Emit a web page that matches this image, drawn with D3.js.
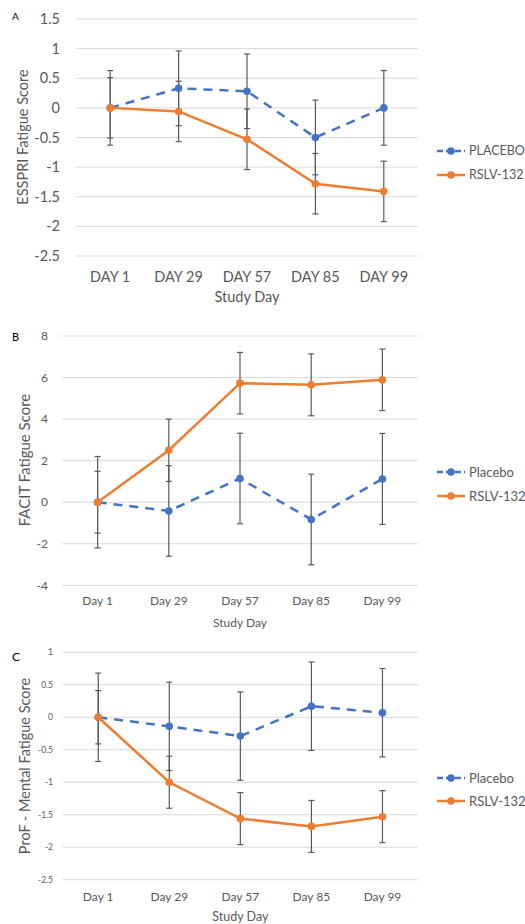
<!DOCTYPE html>
<html lang="en">
<head>
    <meta charset="UTF-8">
    <title>Fatigue Scores</title>
    <script src="https://d3js.org/d3.v7.min.js"></script>
    <style>
        body {
            margin: 0;
            padding: 0;
            background-color: #fff;
        }
        svg {
            display: block;
            font-family: Lato, "Open Sans", sans-serif;
        }
        .grid line {
            stroke: #d9d9d9;
            stroke-width: 1;
        }
        .tick-label, .axis-title, .legend-label {
            fill: #595959;
        }
    </style>
</head>
<body>
    <svg id="chart" width="525" height="924"></svg>
    <script>
        // Data
        const daysUpper = ["DAY 1", "DAY 29", "DAY 57", "DAY 85", "DAY 99"];
        const daysLower = ["Day 1", "Day 29", "Day 57", "Day 85", "Day 99"];

        // Panel A: ESSPRI
        const esspriPlacebo = [0, 0.33, 0.28, -0.50, 0];
        const esspriPlaceboErr = [0.63, 0.63, 0.63, 0.63, 0.63];
        const esspriRslv = [0, -0.06, -0.53, -1.28, -1.41];
        const esspriRslvErr = [0.51, 0.51, 0.51, 0.51, 0.51];
        const esspriTicks = [1.5, 1, 0.5, 0, -0.5, -1, -1.5, -2, -2.5];

        // Panel B: FACIT
        const facitPlacebo = [0, -0.42, 1.14, -0.83, 1.12];
        const facitPlaceboErr = [2.2, 2.18, 2.18, 2.18, 2.19];
        const facitRslv = [0, 2.5, 5.73, 5.65, 5.89];
        const facitRslvErr = [1.49, 1.5, 1.48, 1.49, 1.48];
        const facitTicks = [8, 6, 4, 2, 0, -2, -4];

        // Panel C: ProF - Mental
        const profPlacebo = [0, -0.14, -0.29, 0.17, 0.07];
        const profPlaceboErr = [0.68, 0.68, 0.68, 0.68, 0.68];
        const profRslv = [0, -1.0, -1.56, -1.68, -1.53];
        const profRslvErr = [0.41, 0.40, 0.40, 0.40, 0.40];
        const profTicks = [1, 0.5, 0, -0.5, -1, -1.5, -2, -2.5];

        const BLUE = "#4472c4";
        const ORANGE = "#ed7d31";
        const ERR = "#5a5a5a";

        const panels = [
            {
                letter: "A", letterX: 12, letterY: 20, letterSize: 10,
                cats: daysUpper, ticks: esspriTicks, domain: [-2.5, 1.5],
                x0: 76, x1: 418, yTop: 19, yBottom: 256,
                tickX: 60, tickSize: 14.5,
                catY: 282, catSize: 14.5,
                xTitleY: 302, xTitleSize: 14.5,
                yTitle: "ESSPRI Fatigue Score", yTitleX: 23, yTitleY: 137, yTitleSize: 14.5,
                legendY: [151, 175], legendNames: ["PLACEBO", "RSLV-132"], legendSize: 12.5,
                placebo: esspriPlacebo, placeboErr: esspriPlaceboErr,
                rslv: esspriRslv, rslvErr: esspriRslvErr
            },
            {
                letter: "B", letterX: 12, letterY: 341, letterSize: 11,
                cats: daysLower, ticks: facitTicks, domain: [-4, 8],
                x0: 62, x1: 418, yTop: 336, yBottom: 585.3,
                tickX: 48, tickSize: 12,
                catY: 605, catSize: 12,
                xTitleY: 627, xTitleSize: 12,
                yTitle: "FACIT Fatigue Score", yTitleX: 25, yTitleY: 460, yTitleSize: 15,
                legendY: [472, 496], legendNames: ["Placebo", "RSLV-132"], legendSize: 13,
                placebo: facitPlacebo, placeboErr: facitPlaceboErr,
                rslv: facitRslv, rslvErr: facitRslvErr
            },
            {
                letter: "C", letterX: 12, letterY: 661, letterSize: 12,
                cats: daysLower, ticks: profTicks, domain: [-2.5, 1],
                x0: 62.7, x1: 418, yTop: 652.3, yBottom: 879.7,
                tickX: 53, tickSize: 8.5,
                catY: 901, catSize: 12,
                xTitleY: 920.5, xTitleSize: 12.5,
                yTitle: "ProF - Mental Fatigue Score", yTitleX: 25, yTitleY: 766, yTitleSize: 14.5,
                legendY: [778, 801], legendNames: ["Placebo", "RSLV-132"], legendSize: 13,
                placebo: profPlacebo, placeboErr: profPlaceboErr,
                rslv: profRslv, rslvErr: profRslvErr
            }
        ];

        const svg = d3.select("#chart");

        function drawPanel(p) {
            const g = svg.append("g");

            const x = d3.scaleBand()
                .domain(p.cats)
                .range([p.x0, p.x1]);

            const y = d3.scaleLinear()
                .domain(p.domain)
                .range([p.yBottom, p.yTop]);

            const cx = d => x(d) + x.bandwidth() / 2;

            // gridlines
            g.append("g").attr("class", "grid")
                .selectAll("line")
                .data(p.ticks)
                .join("line")
                .attr("x1", p.x0).attr("x2", p.x1)
                .attr("y1", d => y(d)).attr("y2", d => y(d));

            // y tick labels
            g.append("g")
                .selectAll("text")
                .data(p.ticks)
                .join("text")
                .attr("class", "tick-label")
                .attr("x", p.tickX)
                .attr("y", d => y(d))
                .attr("dy", "0.35em")
                .attr("text-anchor", "end")
                .style("font-size", p.tickSize + "px")
                .text(d => d);

            // category labels
            g.append("g")
                .selectAll("text")
                .data(p.cats)
                .join("text")
                .attr("class", "tick-label")
                .attr("x", d => cx(d))
                .attr("y", p.catY)
                .attr("text-anchor", "middle")
                .style("font-size", p.catSize + "px")
                .text(d => d);

            g.append("text")
                .attr("class", "axis-title")
                .attr("x", (p.x0 + p.x1) / 2)
                .attr("y", p.xTitleY)
                .attr("text-anchor", "middle")
                .style("font-size", p.xTitleSize + "px")
                .text("Study Day");

            g.append("text")
                .attr("class", "axis-title")
                .attr("transform", `translate(${p.yTitleX},${p.yTitleY}) rotate(-90)`)
                .attr("dy", "0.35em")
                .attr("text-anchor", "middle")
                .style("font-size", p.yTitleSize + "px")
                .text(p.yTitle);

            g.append("text")
                .attr("x", p.letterX)
                .attr("y", p.letterY)
                .style("font-size", p.letterSize + "px")
                .attr("fill", "#000")
                .text(p.letter);

            const series = [
                { values: p.placebo, err: p.placeboErr, color: BLUE, dash: "9,7" },
                { values: p.rslv, err: p.rslvErr, color: ORANGE, dash: null }
            ];

            // error bars
            series.forEach(s => {
                const rows = p.cats.map((c, i) => ({ c, v: s.values[i], e: s.err[i] }));
                const eb = g.append("g")
                    .attr("stroke", ERR)
                    .attr("stroke-width", 1.2);
                eb.selectAll("line.v")
                    .data(rows).join("line").attr("class", "v")
                    .attr("x1", d => cx(d.c)).attr("x2", d => cx(d.c))
                    .attr("y1", d => y(d.v + d.e)).attr("y2", d => y(d.v - d.e));
                eb.selectAll("line.t")
                    .data(rows).join("line").attr("class", "t")
                    .attr("x1", d => cx(d.c) - 3).attr("x2", d => cx(d.c) + 3)
                    .attr("y1", d => y(d.v + d.e)).attr("y2", d => y(d.v + d.e));
                eb.selectAll("line.b")
                    .data(rows).join("line").attr("class", "b")
                    .attr("x1", d => cx(d.c) - 3).attr("x2", d => cx(d.c) + 3)
                    .attr("y1", d => y(d.v - d.e)).attr("y2", d => y(d.v - d.e));
            });

            // lines and markers
            series.forEach(s => {
                const rows = p.cats.map((c, i) => ({ c, v: s.values[i] }));
                const line = d3.line()
                    .x(d => cx(d.c))
                    .y(d => y(d.v));
                g.append("path")
                    .datum(rows)
                    .attr("fill", "none")
                    .attr("stroke", s.color)
                    .attr("stroke-width", 2.5)
                    .attr("stroke-dasharray", s.dash)
                    .attr("d", line);
                g.append("g")
                    .selectAll("circle")
                    .data(rows)
                    .join("circle")
                    .attr("cx", d => cx(d.c))
                    .attr("cy", d => y(d.v))
                    .attr("r", 3.8)
                    .attr("fill", s.color);
            });

            // legend
            series.forEach((s, i) => {
                const ly = p.legendY[i];
                const lg = g.append("g");
                lg.append("line")
                    .attr("x1", 437).attr("x2", 465)
                    .attr("y1", ly).attr("y2", ly)
                    .attr("stroke", s.color)
                    .attr("stroke-width", 2.5)
                    .attr("stroke-dasharray", s.dash ? "6,3" : null);
                lg.append("circle")
                    .attr("cx", 451).attr("cy", ly).attr("r", 3.8)
                    .attr("fill", s.color);
                lg.append("text")
                    .attr("class", "legend-label")
                    .attr("x", 469)
                    .attr("y", ly)
                    .attr("dy", "0.35em")
                    .style("font-size", p.legendSize + "px")
                    .text(p.legendNames[i]);
            });
        }

        panels.forEach(drawPanel);
    </script>
</body>
</html>
